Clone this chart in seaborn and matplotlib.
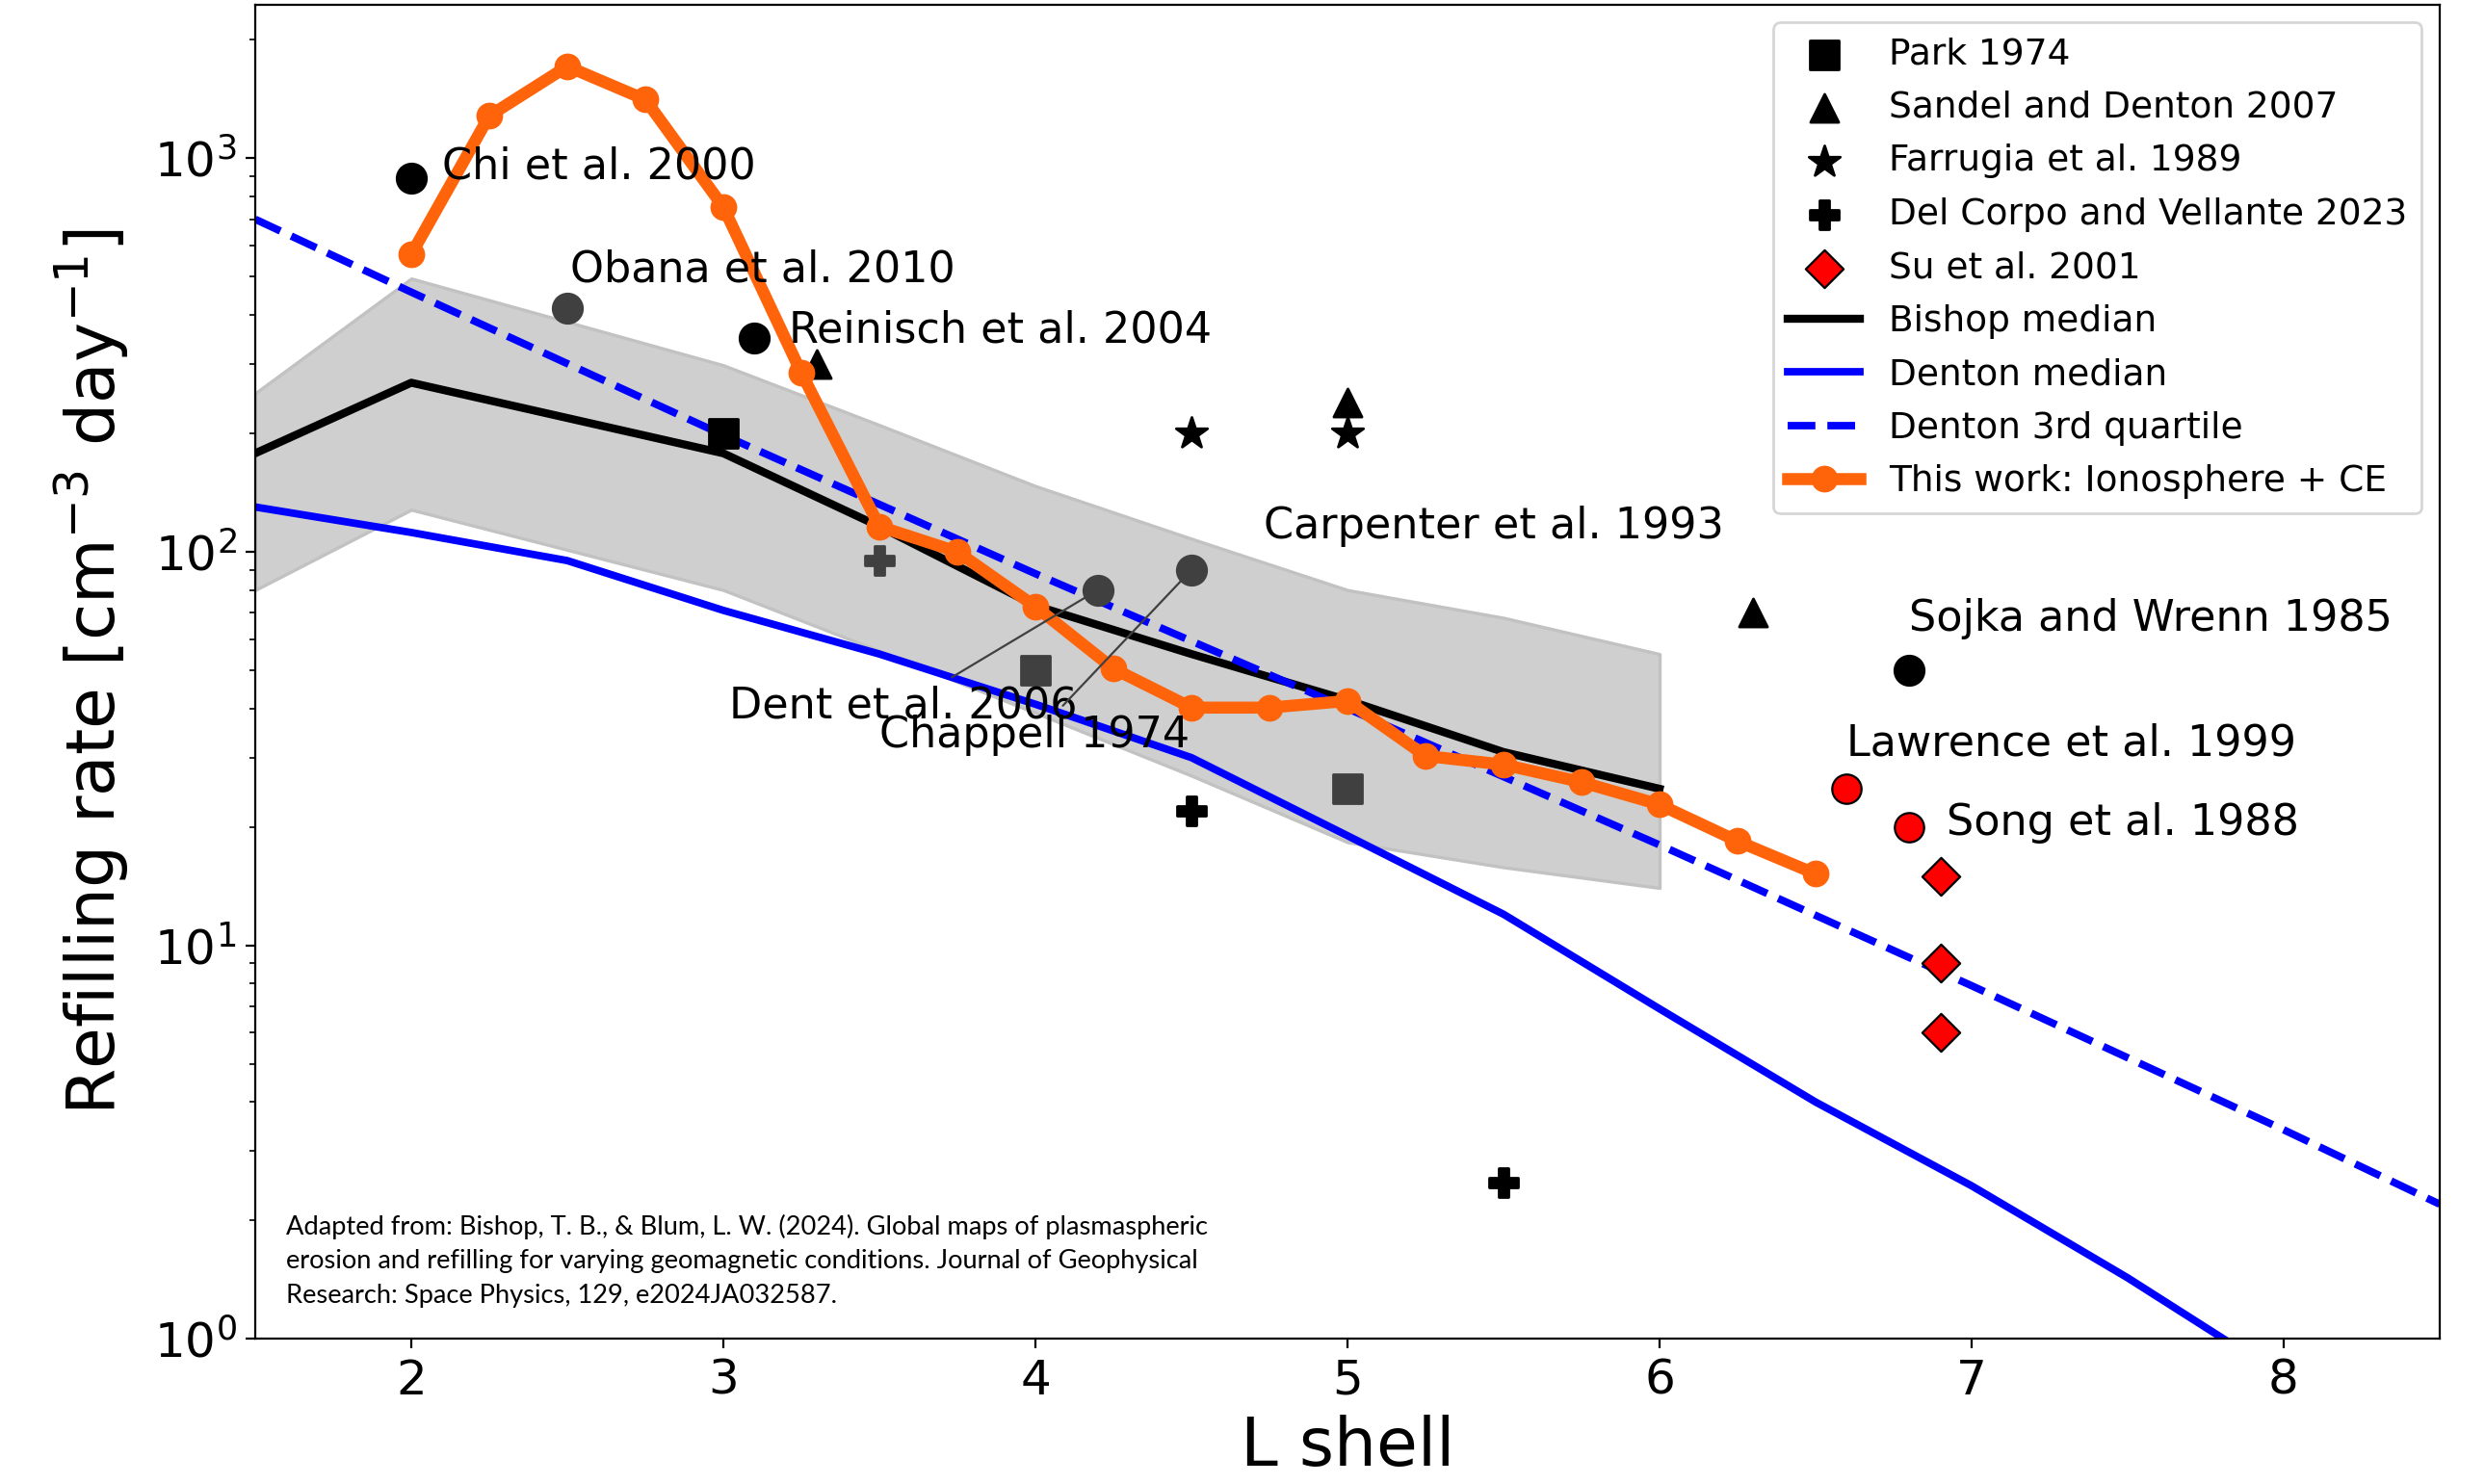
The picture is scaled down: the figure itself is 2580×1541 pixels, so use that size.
import numpy as np
import pandas as pd
import matplotlib
matplotlib.use('Agg')
import matplotlib.pyplot as plt
import seaborn as sns

# ----------------- data -----------------
# Bishop & Blum (2024): median and interquartile band
bishop_L = [1.5, 2, 3, 3.5, 4, 4.5, 5, 5.5, 6]
bishop_med = [178, 269, 178, 116, 73, 55, 42, 31, 25]
bishop_lo = [80, 128, 80, 56, 39, 27, 18.3, 15.8, 14]
bishop_hi = [253, 495, 298, 210, 147, 108, 80, 68, 55]

# Denton et al. median and 3rd quartile
denton_L = [1.5, 2, 2.5, 3, 3.5, 4, 4.5, 5, 5.5, 6, 6.5, 7, 7.5, 8, 8.5]
denton_med = [130, 112, 95, 71, 55, 41, 30, 19, 12, 6.9, 4.0, 2.45, 1.43, 0.8, 0.45]
denton_q3_L = [1.5, 2, 3, 4, 5, 6, 7, 8, 8.5]
denton_q3 = [700, 457, 198, 88, 40, 18, 7.9, 3.4, 2.2]

# this work: ionosphere + CE
this_L = [2, 2.25, 2.5, 2.75, 3, 3.25, 3.5, 3.75, 4, 4.25, 4.5, 4.75,
          5, 5.25, 5.5, 5.75, 6, 6.25, 6.5]
this_rate = [570, 1282, 1712, 1410, 752, 285, 116, 100, 72.6, 50.5, 40.2, 40.2,
             41.8, 30.3, 28.8, 26, 22.8, 18.4, 15.2]

# published point estimates
park_L, park_r = [3], [200]
sandel_L, sandel_r = [3.3, 5, 6.3], [300, 240, 70]
farrugia_L, farrugia_r = [4.5, 5], [200, 200]
delcorpo_L, delcorpo_r = [4.5, 5.5], [22, 2.5]
su_L, su_r = [6.9, 6.9, 6.9], [15, 9, 6]

circ_black_L, circ_black_r = [2, 3.1, 6.8], [890, 350, 50]       # Chi, Reinisch, Sojka
circ_red_L, circ_red_r = [6.6, 6.8], [25, 20]                    # Lawrence, Song
circ_gray_L, circ_gray_r = [2.5, 4.2, 4.5], [415, 80, 90]        # Obana, Dent, Chappell
sq_gray_L, sq_gray_r = [4, 5], [50, 25]
plus_gray_L, plus_gray_r = [3.5], [95]

# study labels: (text, x, y) placed at the baseline
study_labels = [
    ('Chi et al. 2000', 2.1, 890),
    ('Obana et al. 2010', 2.51, 487),
    ('Reinisch et al. 2004', 3.21, 340),
    ('Carpenter et al. 1993', 4.73, 108),
    ('Sojka and Wrenn 1985', 6.8, 63),
    ('Lawrence et al. 1999', 6.6, 30.3),
    ('Song et al. 1988', 6.92, 19.1),
]
# labels joined to their point by a thin line
linked_labels = [
    ('Dent et al. 2006', 3.02, 37.8, 4.2, 80),
    ('Chappell 1974', 3.5, 31.8, 4.5, 90),
]

footnote = ['Adapted from: Bishop, T. B., & Blum, L. W. (2024). Global maps of plasmaspheric',
            'erosion and refilling for varying geomagnetic conditions. Journal of Geophysical',
            'Research: Space Physics, 129, e2024JA032587.']

# ----------------- plot -----------------
ORANGE = '#ff640a'
GRAY = '#404040'

fig = plt.figure(figsize=(12.9, 7.705), dpi=200)
ax = fig.add_axes([265 / 2580, 1 - 1390.4 / 1541, (2533 - 265) / 2580, (1390.4 - 4.6) / 1541])

ax.fill_between(bishop_L, bishop_lo, bishop_hi, facecolor='#cfcfcf', edgecolor='#c2c2c2', lw=1.2, zorder=1)

h_bishop = sns.lineplot(x=bishop_L, y=bishop_med, color='black', lw=3, ax=ax,
                        label='Bishop median').get_lines()[-1]
h_dmed = sns.lineplot(x=denton_L, y=denton_med, color='blue', lw=2.8, ax=ax,
                      label='Denton median').get_lines()[-1]
h_dq3 = sns.lineplot(x=denton_q3_L, y=denton_q3, color='blue', lw=2.8, ls='--', ax=ax,
                     label='Denton 3rd quartile').get_lines()[-1]


def pts(x, y, marker, color, label=None, s=110, ec=None, lw=1.0):
    before = len(ax.collections)
    sns.scatterplot(x=x, y=y, marker=marker, s=s, color=color,
                    edgecolor=ec if ec else color, linewidth=lw, ax=ax, label=label, zorder=2)
    return ax.collections[before]


h_park = pts(park_L, park_r, 's', 'black', 'Park 1974')
h_sandel = pts(sandel_L, sandel_r, '^', 'black', 'Sandel and Denton 2007')
h_farr = pts(farrugia_L, farrugia_r, '*', 'black', 'Farrugia et al. 1989', s=150)
h_delc = pts(delcorpo_L, delcorpo_r, 'P', 'black', 'Del Corpo and Vellante 2023')
h_su = pts(su_L, su_r, 'D', 'red', 'Su et al. 2001', s=100, ec='black', lw=0.8)
pts(circ_black_L, circ_black_r, 'o', 'black', s=120)
pts(circ_red_L, circ_red_r, 'o', 'red', s=120, ec='black', lw=0.8)
pts(circ_gray_L, circ_gray_r, 'o', GRAY, s=120)
pts(sq_gray_L, sq_gray_r, 's', GRAY)
pts(plus_gray_L, plus_gray_r, 'P', GRAY)

h_this = sns.lineplot(x=this_L, y=this_rate, color=ORANGE, lw=4.5, marker='o', markersize=10,
                      markeredgecolor=ORANGE, markeredgewidth=0, ax=ax,
                      label='This work: Ionosphere + CE').get_lines()[-1]

for txt, x, y in study_labels:
    ax.text(x, y, txt, fontsize=16, zorder=5)
for txt, x, y, px, py in linked_labels:
    ax.annotate(txt, xy=(px, py), xytext=(x, y), fontsize=16, zorder=5,
                arrowprops=dict(arrowstyle='-', color=GRAY, lw=0.8))

ax.set_yscale('log')
ax.set_xlim(1.5, 8.5)
ax.set_ylim(1, 2460)
ax.tick_params(labelsize=18)
ax.set_xlabel('L shell', fontsize=25)
ax.set_ylabel('Refilling rate [cm$^{-3}$ day$^{-1}$]', fontsize=25, labelpad=8.5)

handles = [h_park, h_sandel, h_farr, h_delc, h_su, h_bishop, h_dmed, h_dq3, h_this]
ax.legend(handles, [h.get_label() for h in handles], loc='upper right',
          fontsize=13.5, labelspacing=0.52)

for i, line in enumerate(footnote):
    fig.text(297 / 2580, 1 - (1281.7 + 35.8 * i) / 1541, line, fontsize=9.8,
             family=['Lato', 'DejaVu Sans'])

fig.savefig('out.png', dpi=200)
